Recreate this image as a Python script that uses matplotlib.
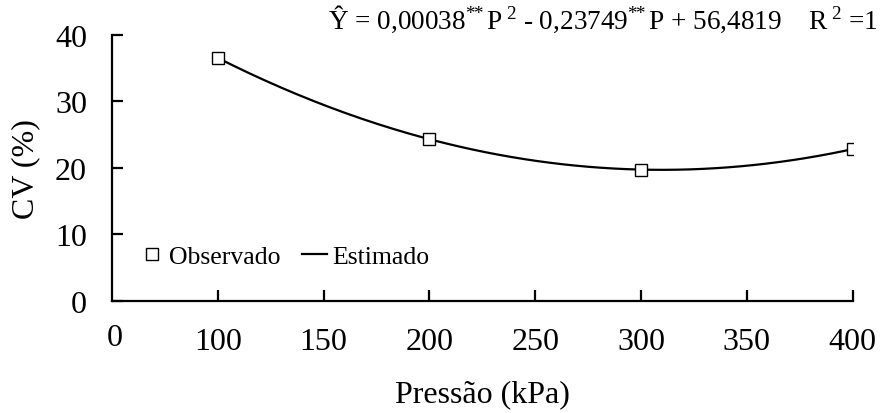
import matplotlib
matplotlib.use("Agg")
import matplotlib.pyplot as plt
import numpy as np

plt.rcParams['font.family'] = ['Liberation Serif', 'DejaVu Serif']
plt.rcParams['mathtext.fontset'] = 'custom'
plt.rcParams['mathtext.rm'] = 'Liberation Serif'
plt.rcParams['mathtext.it'] = 'Liberation Serif:italic'
plt.rcParams['mathtext.bf'] = 'Liberation Serif:bold'

# dados
pressao = [100, 200, 300, 400]
cv_obs = [36.5, 24.3, 19.7, 22.8]
x_ticks = [100, 150, 200, 250, 300, 350, 400]
y_ticks = [0, 10, 20, 30, 40]

# curva estimada (regressao quadratica dos observados)
coef = np.polyfit(pressao, cv_obs, 2)
p_fit = np.linspace(pressao[0], pressao[-1], 200)
cv_fit = np.polyval(coef, p_fit)

fig = plt.figure(figsize=(8.8, 4.14), dpi=100)
ax = fig.add_axes([112 / 880, 1 - 301.7 / 414, (852.7 - 112) / 880, (301.7 - 35.7) / 414])

ax.plot(pressao, cv_obs, linestyle='none', marker='s', markersize=8.5,
        markerfacecolor='white', markeredgecolor='black', markeredgewidth=1.0,
        label='Observado', zorder=3)
ax.plot(p_fit, cv_fit, color='black', linewidth=1.6, label='Estimado', zorder=2)

ax.set_xlim(50, 400)
ax.set_ylim(0, 40)
ax.set_xticks(x_ticks)
ax.set_yticks(y_ticks)
ax.spines['top'].set_visible(False)
ax.spines['right'].set_visible(False)
ax.spines['left'].set_linewidth(1.6)
ax.spines['bottom'].set_linewidth(1.6)
ax.tick_params(axis='x', direction='in', length=8, width=1.6, labelsize=23, pad=19)
ax.tick_params(axis='y', direction='in', length=8, width=1.6, labelsize=23, pad=18)
ax.text(0.004, -0.14, '0', transform=ax.transAxes, ha='center', va='center', fontsize=23)

ax.set_xlabel('Pressão (kPa)', fontsize=23, labelpad=17)
ax.set_ylabel('CV (%)', fontsize=23, labelpad=11)

ax.legend(loc='center left', bbox_to_anchor=(0.036, 0.168), ncol=2, frameon=False,
          fontsize=18.5, handlelength=1.0, handletextpad=0.2, columnspacing=0.8,
          borderpad=0, borderaxespad=0)

fig.text(878 / 880, 1 - 19 / 414,
         r'Ŷ = 0,00038$^{*\!\!*}$P$^{\ 2}$ - 0,23749$^{*\!\!*}$P + 56,4819    R$^{\ 2}$ =1',
         ha='right', va='center', fontsize=19.6)

fig.savefig('out.png', dpi=100)
